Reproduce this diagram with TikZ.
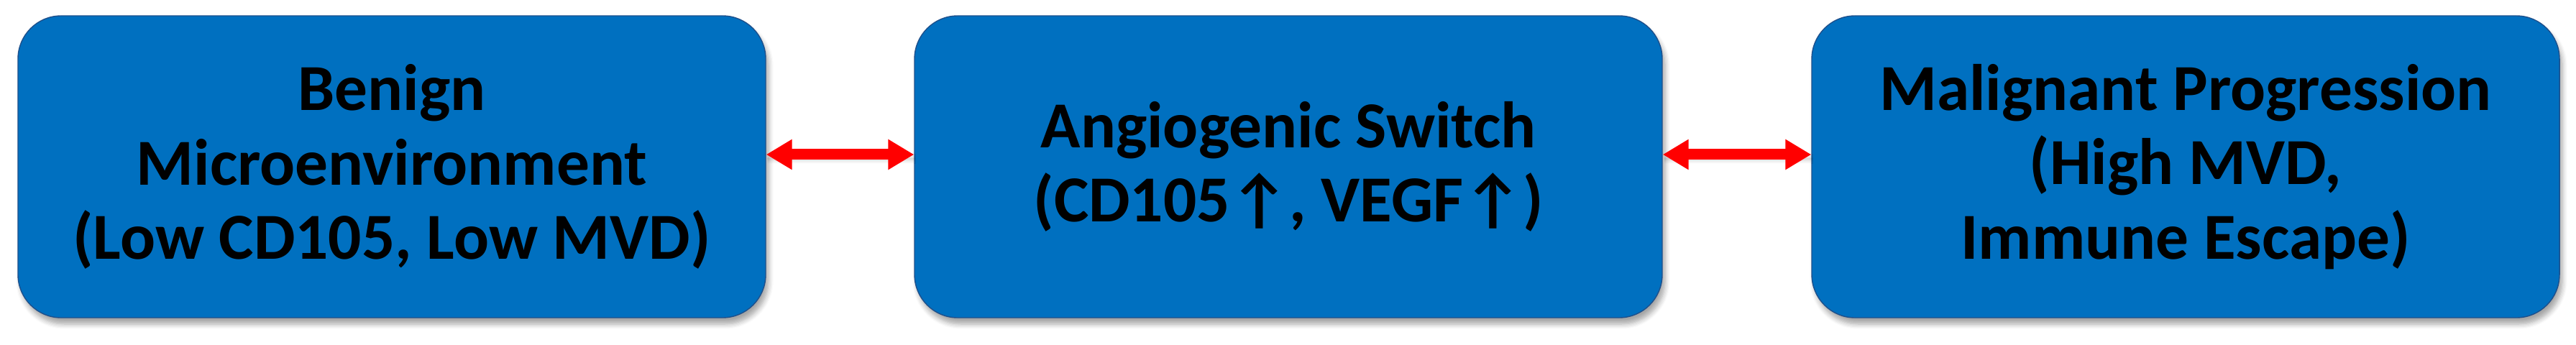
\documentclass[tikz,border=0pt]{standalone}
\usepackage{fontspec}
\setmainfont{Carlito}
\usetikzlibrary{arrows.meta,shadows.blur}
\definecolor{boxblue}{RGB}{0,112,192}
\definecolor{edgeblue}{RGB}{30,80,140}
\begin{document}
\begin{tikzpicture}[
    stage/.style={rectangle,rounded corners=0.6cm,draw=edgeblue,fill=boxblue,thin,
        minimum width=10.4cm,minimum height=4.2cm,align=center,
        font=\fontsize{26}{29.5}\selectfont\bfseries,
        blur shadow={shadow xshift=0.04cm,shadow yshift=-0.09cm,shadow opacity=35,shadow blur steps=6}},
    link/.style={draw=red,line width=0.15cm,{Triangle[length=0.36cm,width=0.4cm]}-{Triangle[length=0.36cm,width=0.4cm]},
        blur shadow={shadow xshift=0.02cm,shadow yshift=-0.06cm,shadow opacity=30}},
]
	\useasboundingbox (0,0) rectangle (35.83,4.79);

	\node[stage] at (5.45,2.47) (benign) {Benign\\Microenvironment\\(Low CD105, Low MVD)};
	\node[stage] at (17.92,2.47) (switch) {Angiogenic Switch\\(CD105↑, VEGF↑)};
	\node[stage] at (30.40,2.47) (malig) {Malignant Progression\\(High MVD,\\Immune Escape)};

	\draw[link] ([yshift=0.17cm]benign.east)--([yshift=0.17cm]switch.west); % both ways
	\draw[link] ([yshift=0.17cm]switch.east)--([yshift=0.17cm]malig.west);

\end{tikzpicture}
\end{document}
